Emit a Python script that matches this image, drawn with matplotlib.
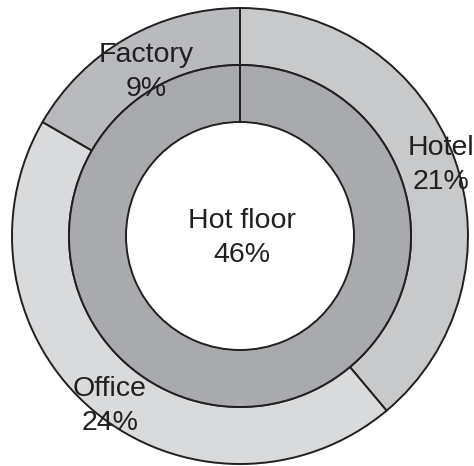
import matplotlib.pyplot as plt

# outer ring: segments clockwise from 12 o'clock
outer_labels = ['Hotel', 'Office', 'Factory']
outer_values = [21, 24, 9]
outer_colors = ['#c8c9cb', '#d9dadc', '#b9babd']

# inner ring
inner_label = 'Hot floor'
inner_value = 46
inner_color = '#a9aaad'

# label positions (data units, radius 1 = outer edge)
label_pos = [(0.88, 0.31), (-0.57, -0.745), (-0.41, 0.72)]

edge = '#231f20'
lw = 1.4
r_out, r_mid, r_in = 1.0, 0.75, 0.5

plt.rcParams['font.family'] = ['Liberation Sans', 'DejaVu Sans']

fig = plt.figure(figsize=(4.74, 4.66), dpi=100)
ax = fig.add_axes([0, 0, 1, 1])

ax.pie(outer_values, radius=r_out, colors=outer_colors, startangle=90,
       counterclock=False,
       wedgeprops=dict(width=r_out - r_mid, edgecolor=edge, linewidth=lw))
ax.pie([inner_value], radius=r_mid, colors=[inner_color], startangle=90,
       wedgeprops=dict(width=r_mid - r_in, edgecolor=edge, linewidth=lw))
# seam of the inner ring at the top
ax.plot([0, 0], [r_in, r_mid], color=edge, linewidth=lw)

for name, val, (x, y) in zip(outer_labels, outer_values, label_pos):
    ax.text(x, y, f'{name}\n{val}%', ha='center', va='center',
            fontsize=20.5, color=edge, linespacing=1.4)

ax.text(0.01, -0.01, f'{inner_label}\n{inner_value}%', ha='center', va='center',
        fontsize=20.5, color=edge, linespacing=1.4)

# centre at (240, 236) px, outer radius 228 px
ax.set_aspect('auto')
ax.set_xlim(-240 / 228, (474 - 240) / 228)
ax.set_ylim(-(466 - 236) / 228, 236 / 228)
ax.axis('off')

fig.savefig('out.png', dpi=100)
